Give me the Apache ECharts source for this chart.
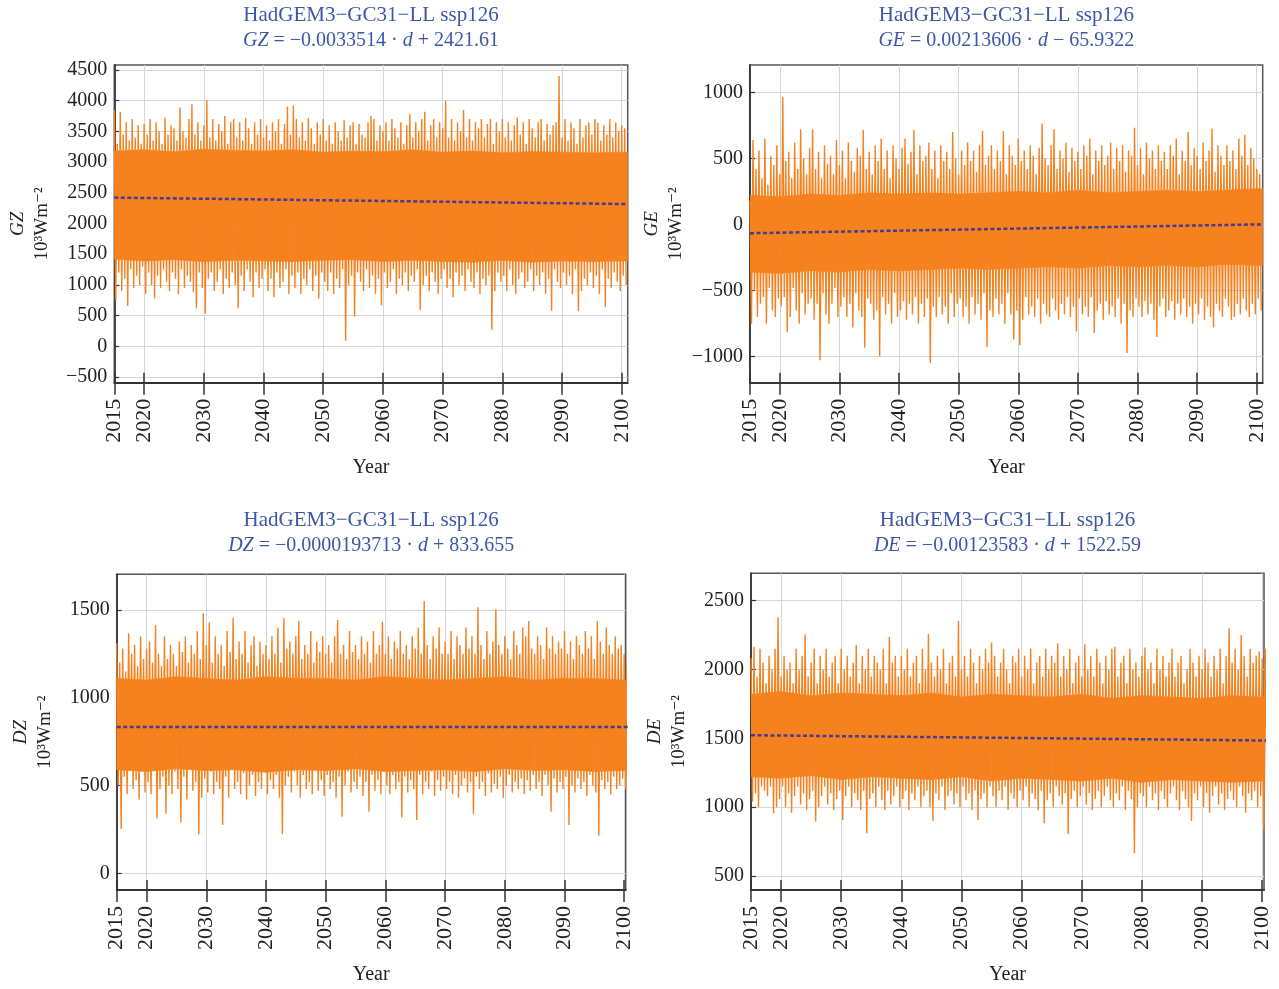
<!DOCTYPE html>
<html>
<head>
<meta charset="utf-8">
<title>HadGEM3-GC31-LL ssp126</title>
<script src="https://cdn.jsdelivr.net/npm/echarts@6/dist/echarts.min.js"></script>
<style>
    html, body { margin: 0; padding: 0; background: #fff; }
    #chart { width: 1279px; height: 989px; }
</style>
</head>
<body>
<div id="chart"></div>
<script>
// x axis ticks (years)
const yearTicks = [2015, 2020, 2030, 2040, 2050, 2060, 2070, 2080, 2090, 2100];
// spike samples: hi tip every half year from 2015, lo tip a quarter year later
const sampleStart = 2015;
const sampleStep = 0.5;
// years for the dense core band edges
const coreYears = [2015, 2020, 2025, 2030, 2035, 2040, 2045, 2050, 2055, 2060, 2065, 2070, 2075, 2080, 2085, 2090, 2095, 2100, 2101];
// trend line end years
const trendYears = [2015, 2101];

// ---- GZ ----
const gzTicks = [-500, 0, 500, 1000, 1500, 2000, 2500, 3000, 3500, 4000, 4500];
const gzHi = [
    3850, 3300, 3820, 3450, 3650, 3350, 3700, 3400, 3600, 3300,
    3620, 3450, 3700, 3350, 3650, 3500, 3300, 3720, 3450, 3600,
    3550, 3350, 3890, 3500, 3400, 3700, 3940, 3450, 3650, 3350,
    3600, 4010, 3400, 3700, 3350, 3620, 3500, 3750, 3300, 3650,
    3700, 3400, 3650, 3350, 3720, 3550, 3300, 3650, 3450, 3700,
    3400, 3600, 3350, 3650, 3500, 3700, 3300, 3620, 3900, 3450,
    3920, 3700, 3400, 3650, 3350, 3720, 3550, 3300, 3650, 3450,
    3700, 3350, 3600, 3300, 3650, 3500, 3350, 3680, 3400, 3600,
    3650, 3300, 3620, 3450, 3400, 3650, 3750, 3700, 3350, 3600,
    3500, 3650, 3350, 3700, 3550, 3400, 3650, 3300, 3600, 3790,
    3400, 3650, 3500, 3700, 3820, 3350, 3600, 3700, 3400, 3650,
    3550, 4000, 3400, 3700, 3350, 3650, 3500, 3850, 3400, 3700,
    3350, 3650, 3550, 3700, 3400, 3620, 3700, 3300, 3650, 3500,
    3700, 3400, 3650, 3350, 3600, 3720, 3450, 3650, 3300, 3700,
    3550, 3400, 3650, 3700, 3350, 3620, 3450, 3600, 3650, 4400,
    3400, 3700, 3350, 3650, 3550, 3300, 3700, 3400, 3600, 3650,
    3450, 3700, 3640, 3350, 3600, 3450, 3700, 3400, 3650, 3500,
    3600, 3550
];
const gzLo = [
    760, 1200, 900, 1100, 660, 1250, 950, 1150, 1000, 1300,
    850, 1200, 1000, 780, 1150, 950, 1250, 1050, 900, 1200,
    1100, 850, 1250, 950, 1150, 1050, 880, 620, 1200, 950,
    530, 1100, 1200, 900, 1050, 1250, 850, 1100, 950, 1200,
    1000, 620, 1150, 900, 1250, 1050, 800, 1200, 950, 1100,
    1250, 900, 1100, 800, 1200, 950, 1050, 1250, 850, 1150,
    950, 1200, 850, 1100, 1000, 1250, 900, 1150, 780, 1200,
    1050, 900, 1200, 850, 1100, 950, 1250, 90, 1000, 1150,
    480, 1200, 1050, 900, 1250, 950, 1150, 850, 1100, 670,
    1200, 950, 1050, 1250, 850, 1100, 1000, 1200, 900, 1150,
    1050, 1250, 590, 1000, 1150, 900, 1200, 1050, 850, 1100,
    1250, 950, 1100, 800, 1200, 1000, 1150, 900, 1250, 1050,
    950, 1200, 850, 1100, 1000, 1150, 270, 900, 1200, 1050,
    1150, 900, 1250, 1000, 850, 1100, 1200, 950, 1050, 1250,
    900, 1150, 1000, 1200, 850, 1100, 580, 1250, 1050, 950,
    1200, 1000, 1150, 850, 1250, 570, 900, 1100, 1000, 1200,
    950, 1150, 850, 1250, 640, 1100, 950, 1200, 1050, 900,
    1150, 1000
];
const gzCoreHi = [3180, 3200, 3170, 3210, 3190, 3180, 3200, 3160, 3180, 3170, 3200, 3160, 3180, 3150, 3170, 3160, 3150, 3160, 3160];
const gzCoreLo = [1420, 1390, 1410, 1380, 1400, 1390, 1380, 1400, 1410, 1380, 1400, 1380, 1370, 1400, 1370, 1390, 1380, 1390, 1390];
const gzTrend = [2421.61, 2316.3];

// ---- GE ----
const geTicks = [-1000, -500, 0, 500, 1000];
const geHi = [
    180, 640, 420, 560, 350, 650, 300, 520, 450, 600,
    380, 967, 480, 550, 350, 620, 420, 720, 500, 380,
    580, 720, 420, 550, 350, 600, 460, 520, 380, 640,
    450, 560, 350, 620, 480, 400, 580, 520, 715, 420,
    550, 380, 600, 480, 650, 420, 560, 350, 600, 500,
    420, 580, 650, 460, 550, 715, 380, 600, 480, 520,
    620, 420, 560, 350, 600, 480, 550, 420, 700, 500,
    380, 560, 450, 620, 480, 560, 400, 600, 710, 450,
    520, 600, 420, 560, 480, 707, 380, 600, 520, 450,
    650, 480, 560, 420, 600, 520, 380, 580, 765, 500,
    450, 600, 720, 420, 560, 500, 620, 400, 580, 480,
    550, 420, 600, 520, 650, 380, 560, 480, 600, 450,
    520, 620, 420, 580, 480, 600, 400, 560, 520, 732,
    450, 580, 380, 620, 500, 560, 420, 600, 480, 550,
    420, 600, 520, 650, 380, 560, 480, 700, 450, 580,
    520, 420, 620, 480, 560, 727, 400, 600, 520, 450,
    600, 480, 560, 420, 650, 520, 680, 450, 580, 500,
    420, 380
];
const geLo = [
    -750, -500, -700, -600, -550, -750, -480, -650, -700, -560,
    -620, -550, -813, -700, -480, -650, -750, -520, -680, -600,
    -560, -720, -600, -1028, -520, -680, -750, -600, -480, -700,
    -620, -550, -700, -600, -780, -520, -650, -700, -932, -560,
    -600, -720, -650, -997, -550, -680, -600, -750, -520, -700,
    -650, -580, -720, -600, -680, -550, -750, -600, -700, -560,
    -1048, -620, -700, -550, -680, -620, -750, -520, -700, -600,
    -560, -700, -620, -750, -550, -680, -600, -720, -520, -927,
    -650, -700, -560, -680, -600, -750, -520, -680, -871, -650,
    -914, -720, -550, -680, -620, -700, -560, -750, -600, -680,
    -700, -560, -650, -720, -600, -680, -550, -700, -620, -810,
    -560, -680, -620, -700, -550, -820, -650, -600, -720, -580,
    -680, -620, -700, -560, -750, -600, -972, -650, -700, -560,
    -620, -700, -580, -680, -600, -720, -851, -620, -560, -700,
    -650, -580, -720, -600, -680, -560, -700, -620, -750, -600,
    -680, -560, -720, -620, -700, -780, -600, -650, -700, -560,
    -620, -720, -700, -600, -680, -560, -650, -700, -600, -680,
    -560, -650
];
const geCoreHi = [220, 210, 230, 220, 240, 230, 240, 230, 240, 250, 240, 260, 240, 250, 260, 250, 260, 270, 270];
const geCoreLo = [-360, -370, -350, -360, -340, -350, -340, -330, -340, -330, -320, -330, -310, -320, -310, -320, -300, -310, -310];
const geTrend = [-65.93, 1.17];

// ---- DZ ----
const dzTicks = [0, 500, 1000, 1500];
const dzHi = [
    1310, 1200, 1280, 1150, 1367, 1250, 1300, 1180, 1350, 1220,
    1280, 1320, 1200, 1414, 1250, 1180, 1350, 1220, 1300, 1250,
    1180, 1320, 1260, 1350, 1200, 1300, 1250, 1380, 1220, 1481,
    1300, 1430, 1200, 1350, 1250, 1300, 1180, 1380, 1260, 1456,
    1220, 1320, 1250, 1380, 1200, 1300, 1350, 1180, 1320, 1250,
    1300, 1220, 1350, 1250, 1400, 1200, 1452, 1280, 1320, 1250,
    1350, 1437, 1220, 1300, 1250, 1380, 1200, 1320, 1260, 1350,
    1250, 1300, 1200, 1350, 1443, 1250, 1300, 1220, 1380, 1260,
    1300, 1220, 1350, 1250, 1320, 1200, 1380, 1250, 1300, 1433,
    1250, 1350, 1220, 1320, 1280, 1380, 1250, 1300, 1220, 1350,
    1280, 1400, 1250, 1551, 1300, 1220, 1350, 1280, 1400, 1250,
    1320, 1250, 1380, 1220, 1350, 1300, 1250, 1400, 1280, 1350,
    1250, 1515, 1300, 1220, 1380, 1250, 1320, 1504, 1300, 1250,
    1350, 1280, 1220, 1380, 1300, 1250, 1400, 1350, 1437, 1280,
    1250, 1350, 1300, 1220, 1400, 1280, 1350, 1250, 1320, 1280,
    1380, 1250, 1320, 1220, 1350, 1300, 1250, 1380, 1280, 1350,
    1220, 1437, 1320, 1250, 1400, 1300, 1250, 1350, 1280, 1300,
    1250, 1200
];
const dzLo = [
    500, 252, 550, 450, 600, 480, 530, 420, 580, 460,
    520, 450, 600, 313, 480, 550, 340, 500, 450, 580,
    480, 290, 550, 420, 600, 470, 520, 222, 430, 540,
    460, 580, 450, 520, 480, 275, 550, 430, 600, 480,
    520, 450, 570, 420, 500, 560, 440, 520, 480, 590,
    450, 530, 480, 560, 430, 222, 500, 550, 460, 580,
    500, 430, 560, 480, 520, 450, 590, 470, 530, 440,
    560, 480, 520, 430, 550, 322, 500, 580, 460, 520,
    480, 550, 440, 520, 351, 560, 470, 530, 450, 580,
    500, 450, 560, 480, 520, 318, 550, 460, 530, 480,
    303, 560, 450, 520, 480, 580, 440, 530, 470, 550,
    480, 520, 450, 560, 430, 500, 540, 460, 520, 336,
    550, 480, 520, 440, 570, 460, 510, 480, 550, 430,
    500, 560, 460, 520, 480, 540, 450, 530, 470, 560,
    480, 520, 440, 560, 500, 350, 540, 460, 520, 480,
    550, 275, 500, 460, 540, 480, 520, 440, 560, 500,
    460, 214, 530, 480, 520, 450, 550, 480, 500, 540,
    480, 520
];
const dzCoreHi = [1110, 1100, 1120, 1110, 1100, 1120, 1110, 1110, 1100, 1120, 1110, 1100, 1110, 1120, 1100, 1110, 1110, 1100, 1100];
const dzCoreLo = [590, 580, 595, 585, 590, 575, 590, 585, 595, 580, 585, 590, 580, 595, 585, 590, 580, 585, 585];
const dzTrend = [833.66, 833.05];

// ---- DE ----
const deTicks = [500, 1000, 1500, 2000, 2500];
const deHi = [
    2081, 2166, 1950, 2150, 2050, 1900, 2100, 2000, 2150, 2379,
    1950, 2100, 2000, 2050, 1900, 2150, 2000, 2100, 2256, 1950,
    2050, 2150, 1900, 2100, 2000, 2150, 1950, 2050, 2100, 1900,
    2150, 2000, 2100, 1950, 2050, 2178, 1900, 2100, 2000, 2150,
    1950, 2100, 2050, 2000, 2150, 1900, 2236, 2050, 2100, 1950,
    2100, 2000, 2150, 1950, 2050, 2100, 1900, 2150, 2000, 2258,
    2050, 1950, 2100, 2000, 2150, 1900, 2050, 2100, 1950, 2352,
    2000, 2100, 1950, 2150, 2050, 1900, 2100, 2000, 2150, 2050,
    2197, 2100, 1950, 2050, 2150, 2000, 1900, 2100, 2050, 2150,
    1950, 2100, 2000, 2150, 1900, 2050, 2100, 1950, 2150, 2000,
    2100, 2050, 2190, 1950, 2100, 2000, 2150, 1900, 2050, 2100,
    1950, 2183, 2000, 2100, 1950, 2150, 2050, 1900, 2100, 2000,
    2150, 2166, 1950, 2050, 2100, 1900, 2150, 2000, 2050, 1950,
    2100, 2159, 2000, 2050, 1900, 2150, 2000, 2100, 1950, 2050,
    2150, 1950, 2050, 2100, 1900, 2000, 2150, 2050, 1950, 2100,
    2000, 2150, 2050, 1950, 2100, 2000, 2150, 1900, 2100, 2299,
    2050, 2150, 2000, 2251, 2100, 1950, 2150, 2050, 2100, 2130,
    2080, 2150
];
const deLo = [
    1040, 1100, 1000, 1150, 1120, 1080, 1150, 956, 1000, 1060,
    1150, 1000, 1100, 960, 1080, 1150, 1020, 1100, 980, 1060,
    1120, 895, 1000, 1080, 1150, 1020, 1100, 980, 1060, 1120,
    907, 1080, 1150, 1000, 1100, 1050, 980, 1120, 810, 1060,
    1100, 1000, 1150, 1050, 980, 1120, 1020, 1080, 1150, 1000,
    1060, 1120, 980, 1100, 1050, 1150, 1000, 1080, 1120, 1000,
    900, 1100, 1050, 1150, 980, 1080, 1120, 1020, 1100, 1000,
    1150, 1050, 1100, 980, 1120, 907, 1060, 1100, 1000, 1150,
    1080, 1000, 1120, 1050, 1150, 980, 1100, 1060, 1000, 1120,
    1050, 1150, 1000, 1100, 1060, 980, 1120, 883, 1050, 1100,
    1000, 1150, 1080, 1020, 1100, 803, 1060, 1120, 1000, 1080,
    1150, 1020, 1100, 980, 1060, 1120, 1000, 1080, 1150, 1050,
    1000, 1100, 1050, 1150, 980, 1120, 1060, 665, 1000, 1100,
    1080, 1000, 1150, 1050, 1100, 980, 1120, 1060, 1000, 1100,
    1150, 1050, 980, 1120, 1060, 1000, 900, 1100, 1050, 1150,
    1000, 1100, 960, 1080, 1150, 1020, 1100, 980, 1060, 1120,
    1050, 1000, 1150, 1080, 960, 1100, 1050, 1120, 1000, 1080,
    842, 1100
];
const deCoreHi = [1820, 1840, 1810, 1830, 1820, 1810, 1830, 1800, 1820, 1810, 1800, 1820, 1790, 1810, 1800, 1790, 1810, 1800, 1800];
const deCoreLo = [1220, 1210, 1230, 1200, 1220, 1210, 1200, 1220, 1190, 1210, 1200, 1190, 1210, 1180, 1200, 1190, 1180, 1190, 1190];
const deTrend = [1522.59, 1483.8];

// 样式
const FONT = '"Liberation Serif", "DejaVu Serif", serif';
const ORANGE = '#f5821f';
const TREND = '#4a3b8c';
const TITLE_BLUE = '#3b58a8';
const INK = '#222';

// 四个面板的布局与数据
const panels = [
    { v: 'GZ', eq: '{i|GZ} = \u22120.0033514 \u00b7 {i|d} + 2421.61', titleTop: 3,
      grid: { left: 114.3, top: 65, width: 513.4, height: 317.7 }, xMax: 2101, yMin: -593, yMax: 4581,
      ticks: gzTicks, hi: gzHi, lo: gzLo, coreHi: gzCoreHi, coreLo: gzCoreLo, trend: gzTrend },
    { v: 'GE', eq: '{i|GE} = 0.00213606 \u00b7 {i|d} \u2212 65.9322', titleTop: 3,
      grid: { left: 750, top: 65, width: 512.7, height: 317.7 }, xMax: 2101, yMin: -1197, yMax: 1207,
      ticks: geTicks, hi: geHi, lo: geLo, coreHi: geCoreHi, coreLo: geCoreLo, trend: geTrend },
    { v: 'DZ', eq: '{i|DZ} = \u22120.0000193713 \u00b7 {i|d} + 833.655', titleTop: 508,
      grid: { left: 116.7, top: 574.3, width: 509, height: 315.7 }, xMax: 2100.25, yMin: -95, yMax: 1703,
      ticks: dzTicks, hi: dzHi, lo: dzLo, coreHi: dzCoreHi, coreLo: dzCoreLo, trend: dzTrend },
    { v: 'DE', eq: '{i|DE} = \u22120.00123583 \u00b7 {i|d} + 1522.59', titleTop: 508,
      grid: { left: 751, top: 573.3, width: 513, height: 316.7 }, xMax: 2100.3, yMin: 398, yMax: 2699,
      ticks: deTicks, hi: deHi, lo: deLo, coreHi: deCoreHi, coreLo: deCoreLo, trend: deTrend }
];

// 锯齿线：上尖峰与下尖峰交替
function zigzag(hi, lo) {
    const pts = [];
    hi.forEach((v, k) => {
        const t = sampleStart + k * sampleStep;
        pts.push([t, v]);
        pts.push([t + sampleStep / 2, lo[k]]);
    });
    return pts;
}

// 核心带：相邻两个年份之间画一个四边形
function renderCore(params, api) {
    const a = api.coord([api.value(0), api.value(3)]);
    const b = api.coord([api.value(1), api.value(5)]);
    const c = api.coord([api.value(1), api.value(4)]);
    const d = api.coord([api.value(0), api.value(2)]);
    return {
        type: 'polygon',
        shape: { points: [a, b, c, d] },
        style: { fill: ORANGE, stroke: ORANGE, lineWidth: 0.6 }
    };
}

const option = {
    animation: false,
    backgroundColor: '#fff',
    title: [], grid: [], xAxis: [], yAxis: [], series: []
};

panels.forEach((p, i) => {
    const g = p.grid;
    option.title.push({
        text: '{h|HadGEM3\u2212GC31\u2212LL ssp126}\n' + p.eq,
        left: g.left + g.width / 2,
        top: p.titleTop,
        padding: 0,
        textAlign: 'center',
        textStyle: {
            fontFamily: FONT, fontSize: 20, fontWeight: 'normal', color: TITLE_BLUE, lineHeight: 25,
            rich: {
                h: { fontFamily: FONT, fontSize: 21, color: TITLE_BLUE, lineHeight: 25 },
                i: { fontFamily: FONT, fontSize: 20, fontStyle: 'italic', color: TITLE_BLUE, lineHeight: 25 }
            }
        }
    });
    option.grid.push({
        left: g.left, top: g.top, width: g.width, height: g.height,
        show: true, borderColor: '#555', borderWidth: 1.5, backgroundColor: '#fff'
    });
    // 主 x 轴：外侧刻度 + 标签
    option.xAxis.push({
        type: 'value', gridIndex: i, min: 2015, max: p.xMax, position: 'bottom',
        name: 'Year', nameLocation: 'middle', nameGap: 75,
        nameTextStyle: { fontFamily: FONT, fontSize: 20, color: INK },
        axisLine: { show: true, onZero: false, lineStyle: { color: '#333', width: 1.8 } },
        axisTick: { show: true, length: 12, lineStyle: { color: '#333', width: 1.5 }, customValues: yearTicks },
        axisLabel: { rotate: 90, margin: 16, fontFamily: FONT, fontSize: 22, color: INK, customValues: yearTicks, formatter: v => String(v) },
        splitLine: { show: true, lineStyle: { color: '#d6d6d6', width: 1 } }
    });
    // 副 x 轴：只画内侧刻度
    option.xAxis.push({
        type: 'value', gridIndex: i, min: 2015, max: p.xMax, position: 'bottom',
        axisLine: { show: false, onZero: false },
        axisTick: { show: true, inside: true, length: 10, lineStyle: { color: '#333', width: 1.5 }, customValues: yearTicks },
        axisLabel: { show: false },
        splitLine: { show: false }
    });
    option.yAxis.push({
        type: 'value', gridIndex: i, min: p.yMin, max: p.yMax,
        name: '{i|' + p.v + '}\n10\u00b3Wm\u207b\u00b2', nameLocation: 'middle', nameRotate: 90, nameGap: 60,
        nameTextStyle: {
            fontFamily: FONT, fontSize: 19, color: INK, lineHeight: 24,
            rich: { i: { fontFamily: FONT, fontSize: 19, fontStyle: 'italic', color: INK, lineHeight: 24 } }
        },
        axisLine: { show: true, onZero: false, lineStyle: { color: '#333', width: 1.8 } },
        axisTick: { show: true, inside: true, length: 5, lineStyle: { color: '#333', width: 1.2 }, customValues: p.ticks },
        axisLabel: { margin: 7, fontFamily: FONT, fontSize: 20, color: INK, customValues: p.ticks,
            formatter: v => String(v).replace('-', '\u2212') },
        splitLine: { show: true, lineStyle: { color: '#d6d6d6', width: 1 } }
    });

    const xi = i * 2;
    // 核心密集带
    option.series.push({
        type: 'custom', xAxisIndex: xi, yAxisIndex: i, silent: true, clip: true,
        renderItem: renderCore,
        data: coreYears.slice(0, -1).map((t, k) =>
            [t, coreYears[k + 1], p.coreLo[k], p.coreHi[k], p.coreLo[k + 1], p.coreHi[k + 1]])
    });
    // 日值尖峰
    option.series.push({
        type: 'line', xAxisIndex: xi, yAxisIndex: i, symbol: 'none', silent: true, sampling: null,
        lineStyle: { color: ORANGE, width: 1.4 },
        data: zigzag(p.hi, p.lo)
    });
    // 线性趋势
    option.series.push({
        type: 'line', xAxisIndex: xi, yAxisIndex: i, symbol: 'none', silent: true, z: 5,
        lineStyle: { color: TREND, width: 2.5, type: [4, 2.5] },
        data: trendYears.map((t, k) => [t, p.trend[k]])
    });
});

const chart = echarts.init(document.getElementById('chart'), null, { renderer: 'canvas' });
chart.setOption(option);
</script>
</body>
</html>
